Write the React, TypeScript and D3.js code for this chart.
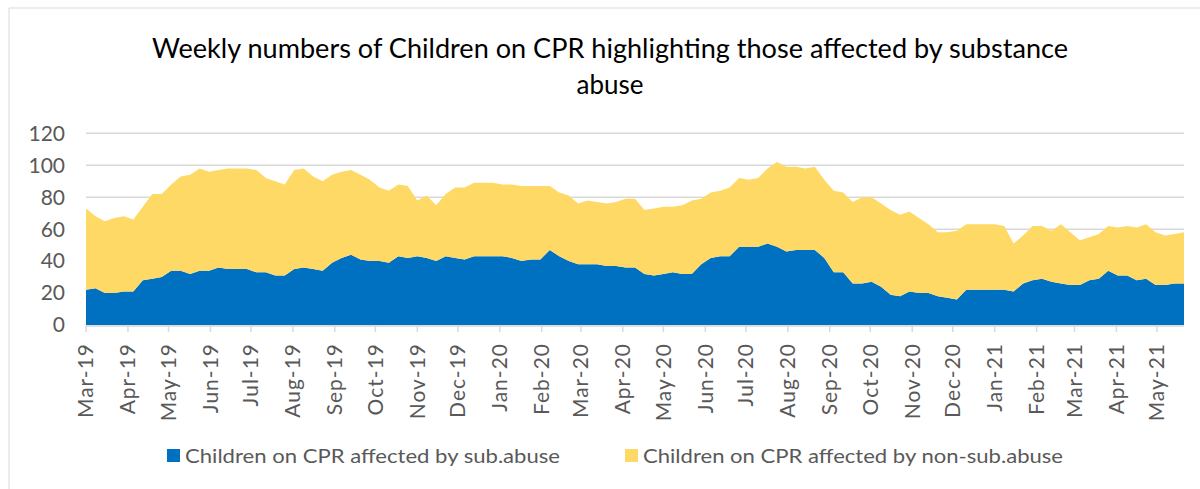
import React from 'react';
import * as d3 from 'd3';

// Weekly series, first week commencing 4 Mar 2019
const startDate = new Date(2019, 2, 4);

const subAbuse = [
  22, 23, 20, 20, 21, 21, 28, 29, 30, 34, 34, 32, 34, 34, 36, 35, 35, 35, 33, 33, 31, 31, 35, 36,
  35, 34, 39, 42, 44, 41, 40, 40, 39, 43, 42, 43, 42, 40, 43, 42, 41, 43, 43, 43, 43, 42, 40,
  41, 41, 47, 43, 40, 38, 38, 38, 37, 37, 36, 36, 32, 31, 32, 33, 32, 32, 38, 42, 43, 43, 49,
  49, 49, 51, 49, 46, 47, 47, 47, 42, 33, 33, 26, 26, 27, 24, 19, 18, 21, 20, 20, 18, 17, 16,
  22, 22, 22, 22, 22, 21, 26, 28, 29, 27, 26, 25, 25, 28, 29, 34, 31, 31, 28, 29, 25, 25, 26, 26,
];

const nonSubAbuse = [
  51, 45, 45, 47, 47, 45, 46, 53, 52, 54, 59, 62, 64, 62, 61, 63, 63, 63, 64, 59, 59, 57, 62, 62,
  58, 56, 55, 54, 53, 53, 51, 46, 45, 45, 45, 35, 39, 35, 39, 44, 45, 46, 46, 46, 45, 46, 47,
  46, 46, 40, 40, 41, 38, 40, 39, 39, 40, 43, 43, 40, 42, 42, 41, 43, 46, 41, 41, 41, 43, 43,
  42, 43, 47, 53, 53, 52, 51, 52, 49, 51, 50, 51, 54, 53, 52, 53, 51, 50, 47, 43, 40, 41, 43,
  41, 41, 41, 41, 40, 30, 30, 34, 33, 32, 37, 33, 28, 27, 28, 28, 30, 31, 33, 34, 33, 31, 31, 32,
];

const yTicks = [0, 20, 40, 60, 80, 100, 120];
const seriesKeys = ['sub', 'non'];
const seriesNames = [
  'Children on CPR affected by sub.abuse',
  'Children on CPR affected by non-sub.abuse',
];
const seriesColors = ['#0070C0', '#FFD966'];
const titleLines = [
  'Weekly numbers of Children on CPR highlighting those affected by substance',
  'abuse',
];

export default function App() {
  const W = 1200;
  const H = 489;
  const left = 86;
  const right = 1184;
  const top = 133.3;
  const bottom = 325;
  const font = 'Lato, "Open Sans", sans-serif';
  const textColor = '#595959';

  const dates = subAbuse.map((_, i) => d3.timeDay.offset(startDate, i * 7));
  const rows = dates.map((d, i) => ({ date: d, sub: subAbuse[i], non: nonSubAbuse[i] }));
  const stacked = d3.stack<any>().keys(seriesKeys)(rows);

  const x = d3.scaleTime().domain([dates[0], dates[dates.length - 1]]).range([left, right]);
  const y = d3.scaleLinear().domain([0, 120]).range([bottom, top]);

  const area = d3
    .area<any>()
    .x((d) => x(d.data.date))
    .y0((d) => y(d[0]))
    .y1((d) => y(d[1]));

  const monthTicks: Date[] = [];
  for (let k = 0; ; k++) {
    const d = d3.timeMonth.offset(startDate, k);
    if (d > dates[dates.length - 1]) break;
    monthTicks.push(d);
  }
  const fmt = d3.timeFormat('%b-%y');

  const legendPos = [
    { x: 167, len: 375 },
    { x: 625, len: 420 },
  ];

  return (
    <svg
      width={W}
      height={H}
      style={{ position: 'absolute', left: 0, top: 0, background: '#fff' }}
      fontFamily={font}
    >
      <rect x={0} y={0} width={W} height={H} fill="#fff" />
      {/* chart frame */}
      <line x1={9} y1={8} x2={W} y2={8} stroke="#d9d9d9" strokeWidth={1} />
      <line x1={9} y1={8} x2={9} y2={H} stroke="#d9d9d9" strokeWidth={1} />

      {/* title */}
      <text
        x={610}
        y={58}
        textAnchor="middle"
        fontSize={26}
        fill="#000"
        textLength={916}
        lengthAdjust="spacingAndGlyphs"
      >
        {titleLines[0]}
      </text>
      <text x={610} y={94} textAnchor="middle" fontSize={26} fill="#000">
        {titleLines[1]}
      </text>

      {/* gridlines */}
      {yTicks.map((t) => (
        <line
          key={t}
          x1={left}
          x2={right}
          y1={y(t)}
          y2={y(t)}
          stroke="#d9d9d9"
          strokeWidth={1.5}
        />
      ))}

      {/* stacked areas */}
      {stacked.map((s, i) => (
        <path key={s.key} d={area(s) || ''} fill={seriesColors[i]} />
      ))}

      {/* x axis line + ticks */}
      <line x1={left} x2={right} y1={bottom + 1} y2={bottom + 1} stroke="#d9d9d9" strokeWidth={1.5} />
      {monthTicks.map((d, i) => (
        <line
          key={i}
          x1={x(d)}
          x2={x(d)}
          y1={bottom + 1}
          y2={bottom + 7}
          stroke="#d9d9d9"
          strokeWidth={1.5}
        />
      ))}

      {/* y labels */}
      {yTicks.map((t) => (
        <text
          key={t}
          x={65}
          y={y(t)}
          dy="0.35em"
          textAnchor="end"
          fontSize={21}
          fill={textColor}
        >
          {t}
        </text>
      ))}

      {/* x labels */}
      {monthTicks.map((d, i) => (
        <text
          key={i}
          transform={`translate(${x(d)},${bottom + 18}) rotate(-90)`}
          dy="0.35em"
          textAnchor="end"
          fontSize={21}
          letterSpacing={1}
          fill={textColor}
        >
          {fmt(d)}
        </text>
      ))}

      {/* legend */}
      {seriesNames.map((n, i) => {
        const lp = legendPos[i];
        return (
          <g key={n}>
            <rect x={lp.x} y={449} width={13} height={13} fill={seriesColors[i]} />
            <text
              x={lp.x + 18}
              y={456}
              dy="0.35em"
              fontSize={20}
              fill={textColor}
              textLength={lp.len}
              lengthAdjust="spacingAndGlyphs"
            >
              {n}
            </text>
          </g>
        );
      })}
    </svg>
  );
}
